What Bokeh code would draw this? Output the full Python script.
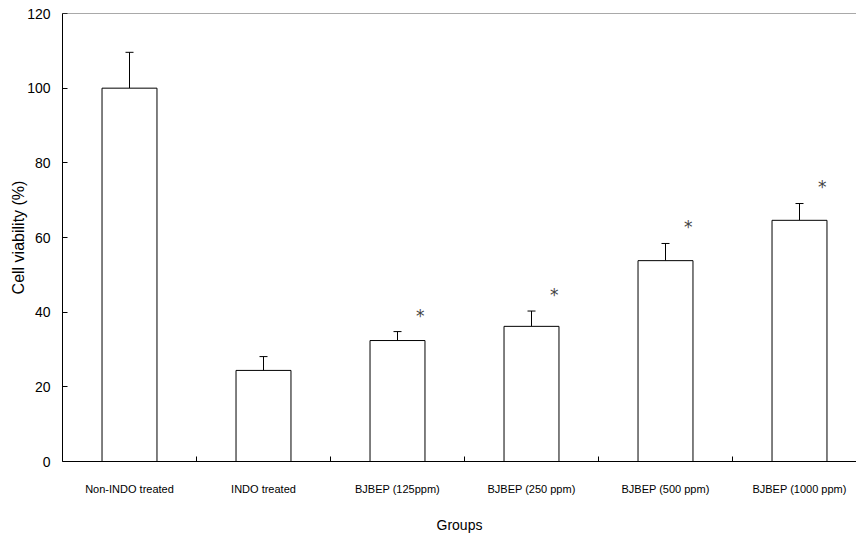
from bokeh.plotting import figure
from bokeh.models import Range1d, FixedTicker, Whisker, TeeHead, ColumnDataSource, Span
from bokeh.core.properties import value
from bokeh.embed import file_html
from bokeh.resources import INLINE

groups = ["Non-INDO treated", "INDO treated", "BJBEP (125ppm)",
          "BJBEP (250 ppm)", "BJBEP (500 ppm)", "BJBEP (1000 ppm)"]
means = [100.0, 24.4, 32.4, 36.2, 53.8, 64.6]
errs = [9.6, 3.7, 2.4, 4.1, 4.6, 4.5]
marks = ["", "", "*", "*", "*", "*"]
y_ticks = [0, 20, 40, 60, 80, 100, 120]

n = len(groups)
xs = list(range(n))
tops = [m + e for m, e in zip(means, errs)]
y_max = y_ticks[-1]

STAR_DX = 0.17
STAR_DY = 4.3

src = ColumnDataSource(dict(x=xs, mean=means, top=tops))
sig_x = [x + STAR_DX for x, s in zip(xs, marks) if s]
sig_y = [t + STAR_DY for t, s in zip(tops, marks) if s]
sig_t = [s for s in marks if s]

W, H = 856, 537
left, top_b, bottom = 62, 13, 76
frame_w = W - left
cat_px = 134.0

p = figure(width=W, height=H, output_backend="svg", toolbar_location=None,
           x_range=Range1d(-0.5, -0.5 + frame_w / cat_px),
           y_range=Range1d(0, y_max),
           min_border_left=left, min_border_right=0,
           min_border_top=top_b, min_border_bottom=bottom)
p.xgrid.visible = False
p.ygrid.visible = False
p.outline_line_color = None
p.background_fill_color = "white"
p.border_fill_color = "white"

p.vbar(x="x", top="mean", bottom=0, width=0.41, source=src,
       fill_color="white", line_color="black", line_width=1)

w = Whisker(base="x", upper="top", lower="mean", source=src,
            line_color="black", line_width=1,
            upper_head=TeeHead(size=8, line_color="black", line_width=1),
            lower_head=None)
p.add_layout(w)

p.text(x=sig_x, y=sig_y, text=sig_t, text_align="center", text_baseline="middle",
       text_font=value("DejaVu Sans"), text_font_size="17px", text_color="#444444")

p.add_layout(Span(location=y_max, dimension="width", line_color="#555555", line_width=1))

# y axis
p.yaxis.ticker = FixedTicker(ticks=y_ticks)
p.yaxis.major_tick_in = 5
p.yaxis.major_tick_out = 0
p.yaxis.minor_tick_line_color = None
p.yaxis.axis_line_color = "black"
p.yaxis.major_tick_line_color = "black"
p.yaxis.major_label_text_font = "Liberation Sans"
p.yaxis.major_label_text_font_size = "14px"
p.yaxis.major_label_text_color = "black"
p.yaxis.major_label_standoff = 12
p.yaxis.axis_label = "Cell viability (%)"
p.yaxis.axis_label_text_font = "Liberation Sans"
p.yaxis.axis_label_text_font_size = "16px"
p.yaxis.axis_label_text_font_style = "normal"
p.yaxis.axis_label_text_color = "black"
p.yaxis.axis_label_standoff = -3

# x axis
p.xaxis.ticker = FixedTicker(ticks=xs, minor_ticks=[x + 0.5 for x in xs[:-1]])
p.xaxis.major_label_overrides = {x: g for x, g in zip(xs, groups)}
p.xaxis.major_tick_in = 0
p.xaxis.major_tick_out = 0
p.xaxis.minor_tick_in = 5
p.xaxis.minor_tick_out = 0
p.xaxis.minor_tick_line_color = "black"
p.xaxis.axis_line_color = "black"
p.xaxis.major_label_text_font = "Liberation Sans"
p.xaxis.major_label_text_font_size = "11px"
p.xaxis.major_label_text_color = "black"
p.xaxis.major_label_standoff = 21
p.xaxis.axis_label = "Groups"
p.xaxis.axis_label_text_font = "Liberation Sans"
p.xaxis.axis_label_text_font_size = "14px"
p.xaxis.axis_label_text_font_style = "normal"
p.xaxis.axis_label_text_color = "black"
p.xaxis.axis_label_standoff = 19

open("out.html", "w").write(file_html(p, INLINE))
